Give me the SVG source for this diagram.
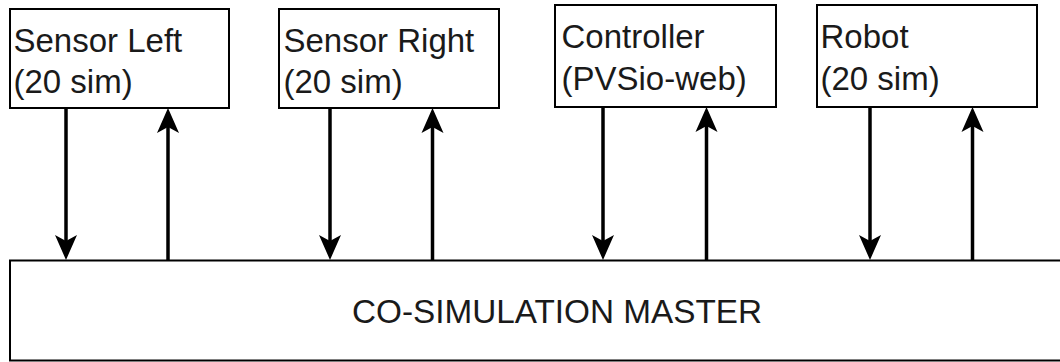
<svg xmlns="http://www.w3.org/2000/svg" width="1060" height="362" viewBox="0 0 1060 362">
<style>
.box{fill:#fff;stroke:#000;stroke-width:2}
.lbl{font-family:"Liberation Sans",Arial,sans-serif;font-size:33px;fill:#1a1a1a}
.main{font-size:33.3px}
.conn{stroke:#000;stroke-width:3.5;fill:none}
</style>
<defs>
<marker id="arr" markerUnits="userSpaceOnUse" viewBox="0 0 26 24" markerWidth="26" markerHeight="24" refX="6" refY="12" orient="auto">
<path d="M0,1 L25,12 L0,23 L6,12 Z" fill="#000"/>
</marker>
</defs>
<g id="master">
<rect class="box" x="10" y="260.5" width="1100" height="100"/>
<text class="lbl main" x="557" y="323" text-anchor="middle">CO-SIMULATION MASTER</text>
</g>
<g id="sensor-left">
<rect class="box" x="10" y="9" width="219" height="99"/>
<text class="lbl" x="13.5" y="51.5">Sensor Left</text>
<text class="lbl" x="13.5" y="93">(20 sim)</text>
</g>
<g id="sensor-right">
<rect class="box" x="279" y="9" width="220" height="99"/>
<text class="lbl" x="283.5" y="51.5">Sensor Right</text>
<text class="lbl" x="283.5" y="93">(20 sim)</text>
</g>
<g id="controller">
<rect class="box" x="555" y="5" width="221" height="102"/>
<text class="lbl" x="561.5" y="48">Controller</text>
<text class="lbl" x="561.5" y="89.5">(PVSio-web)</text>
</g>
<g id="robot">
<rect class="box" x="817" y="5" width="220" height="102"/>
<text class="lbl" x="820.5" y="48">Robot</text>
<text class="lbl" x="820.5" y="89.5">(20 sim)</text>
</g>
<g id="connectors">
<line class="conn" x1="66" y1="108" x2="66" y2="241" marker-end="url(#arr)"/>
<line class="conn" x1="168" y1="260.5" x2="168" y2="127" marker-end="url(#arr)"/>
<line class="conn" x1="330" y1="108" x2="330" y2="241" marker-end="url(#arr)"/>
<line class="conn" x1="432.5" y1="260.5" x2="432.5" y2="127" marker-end="url(#arr)"/>
<line class="conn" x1="603" y1="107" x2="603" y2="241" marker-end="url(#arr)"/>
<line class="conn" x1="706.5" y1="260.5" x2="706.5" y2="126" marker-end="url(#arr)"/>
<line class="conn" x1="870" y1="107" x2="870" y2="241" marker-end="url(#arr)"/>
<line class="conn" x1="972.5" y1="260.5" x2="972.5" y2="126" marker-end="url(#arr)"/>
</g>
</svg>
